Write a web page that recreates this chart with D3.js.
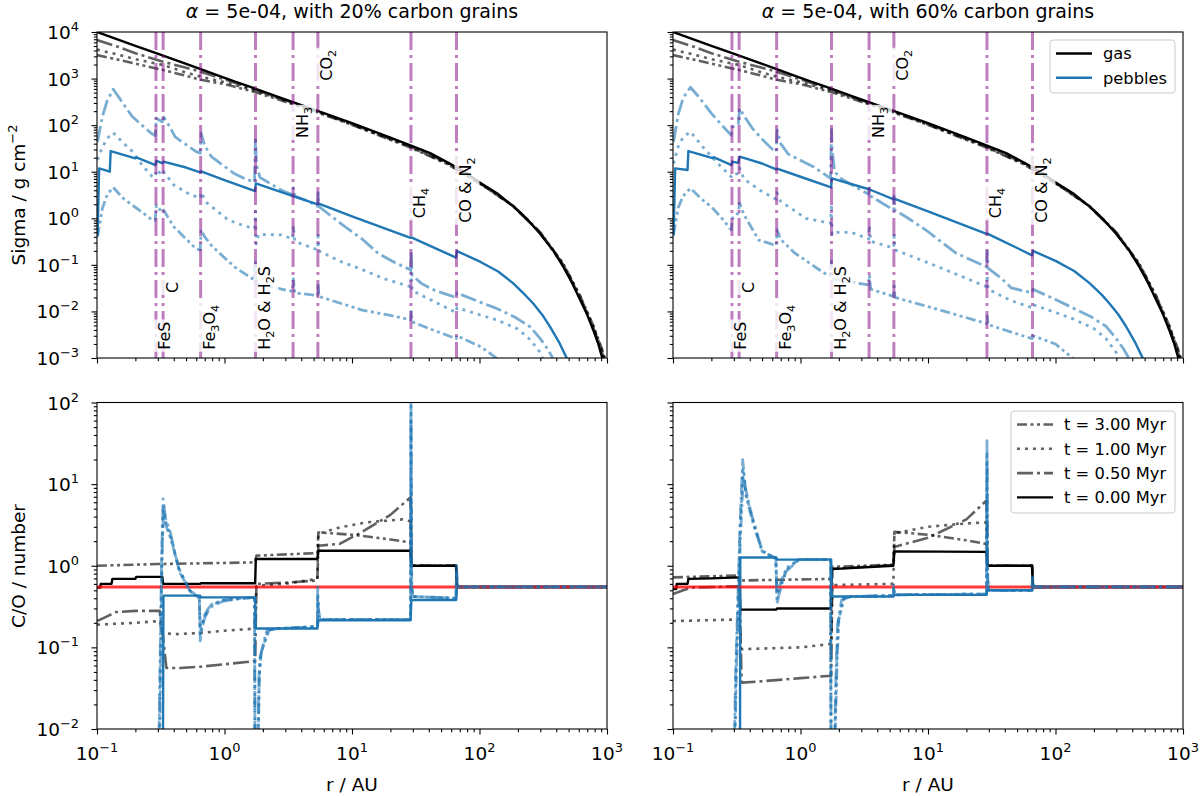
<!DOCTYPE html>
<html><head><meta charset="utf-8">
<script src="https://cdn.jsdelivr.net/npm/d3@7/dist/d3.min.js"></script>
<style>body{margin:0;background:#fff} svg{font-family:"DejaVu Sans",sans-serif}</style>
</head><body><svg id="c" width="1200" height="796"></svg>
<script>
// ---------------- DATA ----------------
const timeLabels = ["t = 3.00 Myr","t = 1.00 Myr","t = 0.50 Myr","t = 0.00 Myr"];
const titles = ["5e-04, with 20% carbon grains","5e-04, with 60% carbon grains"];
const snowR = [0.29,0.33,0.65,1.75,3.45,5.4,29,66];
const snowNames = ["FeS","C","Fe_3O_4","H_2O & H_2S","NH_3","CO_2","CH_4","CO & N_2"];
const snowLabelSigma = [0.0015,0.025,0.0015,0.0015,53,900,1.0,0.8];
const stellarCO = 0.55;
const sigmaTicks = [-3,-2,-1,0,1,2,3,4];
const coTicks = [-2,-1,0,1,2];
const rTicks = [-1,0,1,2,3];

// gas surface density (same in both top panels)
const gasT0 = [[0.1,10000],[0.2,5050],[0.31,3300],[0.5,2070],[0.65,1600],[1,1040],[1.21,860],[1.68,630],[2.5,425],[3.57,300],[5.3,205],[10,110],[20,54],[27.7,38],[41,25],[57,15.5],[80,9.2],[101,5.8],[140,3.3],[184,1.8],[240,0.92],[300,0.46],[380,0.2],[455,0.09],[530,0.042],[614,0.018],[700,0.0085],[780,0.004],[850,0.0021],[910,0.0011],[960,0.0006]];
const gasT05 = [[0.1,6700],[0.15,4700],[0.2,3500],[0.33,2300],[0.5,1700],[0.65,1400],[1,960],[1.7,590],[2.5,410],[3.5,295],[5.3,198],[10,105],[28,36],[57,15],[101,5.7],[184,1.82],[300,0.48],[455,0.1],[614,0.02],[780,0.0045],[910,0.0014],[960,0.0008]];
const gasT1 = [[0.1,4200],[0.15,3200],[0.2,2600],[0.33,1950],[0.5,1350],[0.65,1100],[1,840],[1.7,560],[2.5,395],[3.5,285],[5.3,195],[10,103],[28,35],[57,14.6],[101,5.6],[184,1.84],[300,0.49],[455,0.1],[614,0.021],[780,0.0048],[910,0.0015],[960,0.0009]];
const gasT3 = [[0.1,3200],[0.15,2500],[0.2,2100],[0.33,1520],[0.5,1150],[0.65,940],[1,760],[1.7,520],[2.5,375],[3.5,275],[5.3,190],[10,101],[28,34],[57,14.3],[101,5.5],[184,1.86],[300,0.5],[455,0.105],[614,0.022],[780,0.005],[910,0.0016],[960,0.001]];

// pebble surface density, 20% carbon
const pebL_t0 = [[0.101,0.42],[0.104,11.8],[0.126,10],[0.128,27.8],[0.2,19.4],[0.203,20.3],[0.288,13.9],[0.292,17],[0.325,15.2],[0.332,16.4],[0.5,12.3],[0.645,9.7],[0.655,10.2],[1.0,6.6],[1.74,3.85],[1.76,5.6],[3.45,3.0],[5.38,2.0],[5.42,2.1],[10,1.1],[28.8,0.38],[29.2,0.39],[50,0.2],[65.5,0.143],[66.5,0.198],[101,0.117],[140,0.072],[184,0.040],[230,0.022],[264,0.0148],[310,0.0085],[357,0.0047],[420,0.0022],[483,0.001],[520,0.0006]];
const pebL_t05 = [[0.101,44],[0.11,150],[0.12,330],[0.134,590],[0.15,380],[0.17,230],[0.19,151],[0.23,95],[0.27,65],[0.286,60],[0.292,140],[0.325,118],[0.333,150],[0.37,95],[0.41,56],[0.5,38],[0.6,27],[0.645,25],[0.655,67],[0.7,36],[0.79,21],[1.0,13],[1.2,9],[1.5,6.8],[1.72,6.0],[1.75,56],[1.78,14],[1.9,7.5],[2.8,4.0],[3.42,3.2],[3.47,4.5],[3.55,3.0],[4.6,2.3],[5.38,1.8],[5.42,3.5],[5.5,1.8],[6.5,1.25],[8.8,0.66],[12,0.36],[16,0.177],[22,0.11],[28.8,0.078],[29.1,0.2],[29.6,0.06],[35,0.04],[45,0.028],[65.5,0.02],[66.5,0.025],[100,0.016],[136,0.0116],[190,0.0075],[249,0.0047],[300,0.0026],[340,0.0016],[368,0.0011],[400,0.0006]];
const pebL_t1 = [[0.101,18],[0.11,33],[0.12,52],[0.134,69],[0.16,42],[0.19,27],[0.23,13],[0.27,8],[0.286,7.6],[0.292,11],[0.325,8.5],[0.333,10],[0.4,5.2],[0.5,3.6],[0.6,2.9],[0.645,2.7],[0.655,3.6],[0.72,2.2],[1.07,0.92],[1.4,0.7],[1.72,0.6],[1.75,1.4],[1.77,0.28],[1.85,0.45],[2.8,0.44],[3.42,0.36],[3.47,0.7],[3.55,0.32],[5.38,0.21],[5.42,0.5],[5.5,0.2],[8,0.12],[11.9,0.08],[18,0.05],[28.8,0.034],[29.1,0.07],[29.6,0.028],[41,0.018],[55,0.012],[65.5,0.0095],[66.5,0.012],[100,0.0085],[136,0.0066],[200,0.0042],[249,0.0025],[300,0.0013],[330,0.0007]];
const pebL_t3 = [[0.101,0.4],[0.11,1.6],[0.12,3.2],[0.134,4.6],[0.16,2.7],[0.19,1.9],[0.23,1.3],[0.27,0.92],[0.286,0.9],[0.292,1.9],[0.325,1.35],[0.333,1.5],[0.4,0.66],[0.5,0.36],[0.6,0.22],[0.645,0.21],[0.655,0.56],[0.7,0.4],[0.8,0.25],[1.2,0.09],[1.5,0.06],[1.72,0.047],[1.75,0.12],[1.77,0.04],[2.8,0.03],[3.42,0.027],[3.47,0.05],[3.55,0.025],[5.38,0.022],[5.42,0.04],[5.5,0.021],[12,0.0107],[20,0.0082],[28.8,0.0066],[29.1,0.01],[29.6,0.006],[41,0.0042],[65.5,0.0026],[66.5,0.003],[100,0.0018],[121,0.00126],[150,0.0008]];

// pebble surface density, 60% carbon
const pebR_t0 = [[0.101,0.42],[0.104,11.8],[0.13,10.9],[0.132,27.8],[0.205,19.6],[0.208,20.5],[0.288,13.9],[0.292,16.5],[0.325,15.5],[0.333,21],[0.5,15],[0.645,11.2],[0.655,11.6],[1.0,7.8],[1.74,4.6],[1.76,7.2],[3.45,4.2],[5.38,2.55],[5.42,2.65],[10,1.4],[28.8,0.46],[29.2,0.47],[50,0.23],[65.5,0.16],[66.5,0.2],[101,0.12],[140,0.074],[184,0.041],[230,0.023],[264,0.015],[310,0.0087],[357,0.0048],[420,0.0022],[483,0.001],[520,0.0006]];
const pebR_t05 = [[0.101,44],[0.11,170],[0.12,380],[0.137,650],[0.16,400],[0.2,179],[0.25,90],[0.286,61],[0.292,90],[0.325,105],[0.333,230],[0.36,160],[0.42,85],[0.5,50],[0.62,28],[0.645,27],[0.655,78],[0.7,40],[0.8,24],[1.26,12.8],[1.72,7.2],[1.75,80],[1.77,30],[1.85,10],[2.1,7],[3,4.0],[3.42,3.3],[3.47,4.5],[3.55,3.0],[5.38,1.5],[5.42,3.0],[5.5,1.5],[7,1.0],[9.6,0.56],[16.5,0.18],[28.8,0.09],[29.1,0.2],[29.6,0.085],[38,0.05],[45,0.032],[65.5,0.025],[66.5,0.03],[100,0.018],[136,0.012],[190,0.0077],[249,0.0048],[300,0.0026],[340,0.0016],[368,0.0011],[400,0.0006]];
const pebR_t1 = [[0.101,15],[0.11,35],[0.12,55],[0.137,72],[0.17,35],[0.22,16],[0.286,7.8],[0.292,9],[0.325,9],[0.333,12],[0.36,7],[0.48,4],[0.62,2.7],[0.645,2.6],[0.655,3.5],[0.7,2.3],[1.1,1.0],[1.72,0.78],[1.75,2],[1.77,0.45],[1.85,0.5],[2.5,0.5],[3.42,0.36],[3.47,0.7],[3.55,0.32],[5.38,0.23],[5.42,0.5],[5.5,0.21],[12,0.091],[28.8,0.034],[29.1,0.06],[29.6,0.03],[45,0.017],[65.5,0.012],[66.5,0.014],[100,0.0095],[136,0.007],[200,0.0043],[249,0.0026],[300,0.0013],[330,0.0007]];
const pebR_t3 = [[0.101,0.45],[0.11,1.7],[0.12,3.0],[0.137,4.4],[0.17,2.5],[0.2,1.77],[0.25,0.9],[0.286,0.56],[0.292,1.0],[0.325,1.3],[0.333,2.1],[0.36,1.2],[0.47,0.34],[0.62,0.27],[0.645,0.26],[0.655,0.56],[0.7,0.35],[0.9,0.18],[1.54,0.066],[1.72,0.06],[1.75,0.12],[1.77,0.05],[3.42,0.037],[3.47,0.06],[3.55,0.03],[5.38,0.021],[5.42,0.04],[5.5,0.02],[12,0.011],[28.8,0.0055],[29.1,0.008],[29.6,0.0052],[45,0.0036],[65.5,0.0026],[66.5,0.003],[100,0.002],[121,0.0013],[150,0.0008]];

// C/O ratio, 20% carbon
const coGasL_t0 = [[0.1,0.54],[0.106,0.54],[0.107,0.6],[0.13,0.6],[0.132,0.69],[0.2,0.69],[0.203,0.73],[0.325,0.73],[0.33,0.6],[0.645,0.6],[0.655,0.61],[1.74,0.61],[1.76,1.21],[5.35,1.21],[5.45,1.53],[28.8,1.53],[29.2,1.0],[65.5,1.0],[66.5,0.55],[1000,0.55]];
const coGasL_t05 = [[0.1,0.21],[0.12,0.24],[0.14,0.27],[0.2,0.28],[0.31,0.28],[0.33,0.13],[0.35,0.056],[0.45,0.056],[0.65,0.058],[1.0,0.062],[1.74,0.068],[1.78,0.6],[3,0.62],[5.35,0.66],[5.45,1.76],[8,1.85],[12,2.6],[20,4.2],[28.8,6.9],[29.2,1.0],[65.5,1.0],[66.5,0.55],[1000,0.55]];
const coGasL_t1 = [[0.1,0.19],[0.2,0.2],[0.31,0.21],[0.33,0.15],[0.4,0.145],[0.65,0.15],[1,0.16],[1.74,0.17],[1.78,0.57],[3,0.6],[5.35,0.69],[5.45,2.46],[8,2.95],[13,3.4],[25,3.7],[28.8,3.5],[29.2,1.0],[65.5,1.0],[66.5,0.55],[1000,0.55]];
const coGasL_t3 = [[0.1,1.0],[0.3,1.05],[0.65,1.07],[1.74,1.1],[1.78,1.33],[5.35,1.43],[5.45,2.56],[10,2.4],[20,2.1],[28.8,1.93],[29.2,1.0],[65.5,1.0],[66.5,0.55],[1000,0.55]];
const coPebL_t0 = [[0.1,0.001],[0.328,0.001],[0.332,0.43],[0.645,0.43],[0.655,0.41],[1.74,0.41],[1.76,0.17],[5.35,0.17],[5.45,0.215],[28.8,0.215],[29.2,0.38],[65.5,0.38],[66.5,0.55],[1000,0.55]];
const coPebL_t05 = [[0.1,0.001],[0.3,0.001],[0.31,0.03],[0.322,1.5],[0.33,6.6],[0.345,3.8],[0.373,2.7],[0.435,0.95],[0.537,0.49],[0.6,0.44],[0.635,0.4],[0.645,0.12],[0.67,0.18],[0.7,0.23],[0.77,0.31],[0.98,0.37],[1.4,0.4],[1.72,0.41],[1.74,0.001],[1.8,0.001],[1.86,0.04],[1.9,0.075],[2.14,0.16],[2.6,0.17],[5.35,0.18],[5.38,0.55],[5.45,0.3],[5.6,0.22],[28.8,0.22],[29.0,150],[29.4,0.6],[30,0.42],[65.5,0.4],[66,1.0],[67,0.6],[69,0.55],[1000,0.55]];
const coPebL_t1 = [[0.1,0.001],[0.302,0.001],[0.312,0.03],[0.323,1.4],[0.331,5.6],[0.347,3.4],[0.375,2.4],[0.44,0.9],[0.54,0.48],[0.6,0.43],[0.635,0.4],[0.645,0.14],[0.67,0.19],[0.7,0.24],[0.77,0.32],[0.98,0.38],[1.4,0.4],[1.72,0.41],[1.74,0.001],[1.8,0.001],[1.87,0.04],[1.92,0.08],[2.2,0.165],[2.6,0.17],[5.35,0.18],[5.38,0.45],[5.45,0.28],[5.6,0.22],[28.8,0.22],[29.0,90],[29.4,0.55],[30,0.42],[65.5,0.4],[66,0.9],[67,0.6],[69,0.55],[1000,0.55]];
const coPebL_t3 = [[0.1,0.001],[0.304,0.001],[0.314,0.03],[0.324,1.3],[0.332,4.6],[0.35,3.0],[0.38,2.1],[0.45,0.8],[0.55,0.47],[0.6,0.43],[0.635,0.4],[0.645,0.16],[0.67,0.2],[0.7,0.25],[0.77,0.33],[0.98,0.38],[1.4,0.4],[1.72,0.41],[1.74,0.001],[1.8,0.001],[1.88,0.05],[1.95,0.09],[2.25,0.165],[2.6,0.17],[5.35,0.18],[5.38,0.4],[5.45,0.26],[5.6,0.22],[28.8,0.22],[29.0,60],[29.4,0.5],[30,0.42],[65.5,0.4],[66,0.8],[67,0.6],[69,0.55],[1000,0.55]];

// C/O ratio, 60% carbon
const coGasR_t0 = [[0.1,0.52],[0.106,0.52],[0.107,0.6],[0.13,0.6],[0.132,0.69],[0.2,0.7],[0.333,0.72],[0.337,0.29],[0.645,0.29],[0.655,0.3],[1.74,0.3],[1.76,0.91],[5.35,1.0],[5.45,1.5],[28.8,1.48],[29.2,1.0],[65.5,1.0],[66.5,0.55],[1000,0.55]];
const coGasR_t05 = [[0.1,0.45],[0.12,0.5],[0.14,0.54],[0.333,0.56],[0.345,0.037],[0.45,0.038],[1.0,0.042],[1.74,0.045],[1.78,0.92],[5.35,1.02],[5.45,1.7],[10,2.2],[20,3.7],[28.8,6.3],[29.2,1.0],[65.5,1.0],[66.5,0.55],[1000,0.55]];
const coGasR_t1 = [[0.1,0.21],[0.333,0.22],[0.34,0.095],[1.0,0.1],[1.74,0.11],[1.78,0.58],[5.35,0.6],[5.45,2.5],[10,3.0],[20,3.3],[28.8,3.4],[29.2,1.0],[65.5,1.0],[66.5,0.55],[1000,0.55]];
const coGasR_t3 = [[0.1,0.72],[0.333,0.76],[0.34,0.66],[1.74,0.69],[1.78,0.97],[5.35,1.03],[5.45,2.6],[10,2.4],[20,2.05],[28.8,1.85],[29.2,1.0],[65.5,1.0],[66.5,0.55],[1000,0.55]];
const coPebR_t0 = [[0.1,0.001],[0.335,0.001],[0.337,1.26],[0.645,1.26],[0.655,1.19],[1.74,1.19],[1.76,0.42],[5.35,0.42],[5.45,0.44],[28.8,0.44],[29.2,0.5],[65.5,0.5],[66.5,0.55],[1000,0.55]];
const coPebR_t05 = [[0.1,0.001],[0.296,0.001],[0.31,0.05],[0.335,3],[0.352,20],[0.37,9],[0.397,5.5],[0.42,3.9],[0.5,1.53],[0.6,1.3],[0.64,1.25],[0.655,0.34],[0.68,0.45],[0.72,0.62],[0.77,0.85],[0.98,1.2],[1.72,1.2],[1.74,0.001],[1.8,0.001],[1.9,0.05],[1.95,0.19],[2.1,0.38],[2.5,0.42],[5.35,0.43],[5.38,0.58],[5.45,0.44],[28.8,0.45],[29.0,34],[29.4,0.7],[30,0.5],[65.5,0.5],[66,0.75],[67,0.58],[69,0.55],[1000,0.55]];
const coPebR_t1 = [[0.1,0.001],[0.298,0.001],[0.312,0.05],[0.337,3],[0.354,16],[0.372,8],[0.4,5],[0.425,3.5],[0.5,1.5],[0.6,1.3],[0.64,1.25],[0.655,0.4],[0.68,0.5],[0.72,0.66],[0.78,0.9],[0.98,1.2],[1.72,1.2],[1.74,0.001],[1.8,0.001],[1.92,0.06],[1.98,0.2],[2.15,0.39],[2.5,0.42],[5.35,0.43],[5.38,0.55],[5.45,0.44],[28.8,0.45],[29.0,25],[29.4,0.65],[30,0.5],[65.5,0.5],[66,0.72],[67,0.58],[69,0.55],[1000,0.55]];
const coPebR_t3 = [[0.1,0.001],[0.3,0.001],[0.314,0.05],[0.339,2.5],[0.356,12],[0.375,7],[0.405,4.4],[0.43,3.1],[0.5,1.5],[0.6,1.3],[0.64,1.25],[0.655,0.45],[0.68,0.55],[0.72,0.7],[0.78,0.95],[0.98,1.2],[1.72,1.2],[1.74,0.001],[1.8,0.001],[1.94,0.07],[2.0,0.22],[2.2,0.4],[2.5,0.42],[5.35,0.43],[5.38,0.52],[5.45,0.44],[28.8,0.45],[29.0,18],[29.4,0.6],[30,0.5],[65.5,0.5],[66,0.7],[67,0.58],[69,0.55],[1000,0.55]];

// ---------------- DRAWING ----------------
const svg = d3.select("#c");
const FS = 18.5;   // ticks and axis labels
const LFS = 16.3;  // legend
const SFS = 16;    // snow line labels
const styles = [
  {dash:"10,3.5,3,3.5,3,3.5"}, // 3.00 Myr
  {dash:"3,5"},                // 1.00 Myr
  {dash:"16,4,3,4"},           // 0.50 Myr
  {dash:null}                  // 0.00 Myr
];
const BLUE = "#1f77b4";

const panels = [
  {x0:97, x1:607, y0:32, y1:358, dom:[1e-3,1e4], ticks:sigmaTicks, top:true, ylab:true,
   gas:[gasT3,gasT1,gasT05,gasT0], peb:[pebL_t3,pebL_t1,pebL_t05,pebL_t0], title:titles[0]},
  {x0:673, x1:1183, y0:32, y1:358, dom:[1e-3,1e4], ticks:sigmaTicks, top:true, ylab:false,
   gas:[gasT3,gasT1,gasT05,gasT0], peb:[pebR_t3,pebR_t1,pebR_t05,pebR_t0], title:titles[1]},
  {x0:97, x1:607, y0:402.5, y1:729, dom:[1e-2,1e2], ticks:coTicks, top:false, ylab:true,
   gas:[coGasL_t3,coGasL_t1,coGasL_t05,coGasL_t0], peb:[coPebL_t3,coPebL_t1,coPebL_t05,coPebL_t0]},
  {x0:673, x1:1183, y0:402.5, y1:729, dom:[1e-2,1e2], ticks:coTicks, top:false, ylab:false,
   gas:[coGasR_t3,coGasR_t1,coGasR_t05,coGasR_t0], peb:[coPebR_t3,coPebR_t1,coPebR_t05,coPebR_t0]}
];

function supText(sel, k){
  sel.text("10");
  sel.append("tspan").attr("dy",-8).attr("font-size",FS*0.7).text(k<0 ? "\u2212"+(-k) : String(k));
}
function minorsFor(kmin,kmax){
  const out=[];
  for(let k=kmin;k<kmax;k++) for(let m=2;m<=9;m++) out.push(m*Math.pow(10,k));
  return out;
}
function drawLine(g, data, x, y, color, op, w, dash){
  g.append("path").datum(data)
   .attr("d", d3.line().x(d=>x(d[0])).y(d=>y(d[1])))
   .attr("fill","none").attr("stroke",color).attr("stroke-opacity",op)
   .attr("stroke-width",w).attr("stroke-dasharray",dash)
   .attr("stroke-linejoin","round");
}
function addSubText(t, s, fs){
  let i=0;
  while(i<s.length){
    if(s[i]==="_"){
      t.append("tspan").attr("font-size",fs*0.7).attr("dy",4).text(s[i+1]);
      i+=2;
      let j=i; let buf="";
      while(j<s.length && s[j]!=="_"){buf+=s[j];j++;}
      t.append("tspan").attr("dy",-4).text(buf);
      i=j;
    } else {
      let buf="";
      while(i<s.length && s[i]!=="_"){buf+=s[i];i++;}
      t.append("tspan").text(buf);
    }
  }
}

panels.forEach((p,pi)=>{
  const x = d3.scaleLog().domain([0.1,1000]).range([p.x0,p.x1]);
  const y = d3.scaleLog().domain(p.dom).range([p.y1,p.y0]);
  const cid = "clip"+pi;
  svg.append("clipPath").attr("id",cid).append("rect")
     .attr("x",p.x0).attr("y",p.y0).attr("width",p.x1-p.x0).attr("height",p.y1-p.y0);
  const g = svg.append("g").attr("clip-path",`url(#${cid})`);

  for(let i=0;i<3;i++) drawLine(g, p.gas[i], x, y, "#000", 0.62, 2.6, styles[i].dash);
  drawLine(g, p.gas[3], x, y, "#000", 1, 2.4, null);

  if(p.top){
    for(let i=0;i<3;i++) drawLine(g, p.peb[i], x, y, BLUE, 0.6, 2.8, styles[i].dash);
    drawLine(g, p.peb[3], x, y, BLUE, 1, 2.4, null);
    g.selectAll("line.snow").data(snowR).enter().append("line")
     .attr("x1",d=>x(d)).attr("x2",d=>x(d)).attr("y1",p.y0).attr("y2",p.y1)
     .attr("stroke","purple").attr("stroke-opacity",0.5).attr("stroke-width",3)
     .attr("stroke-dasharray","18,5,3,5");
    snowR.forEach((r,i)=>{
      const lg = g.append("g").attr("transform",`translate(${x(r)+14.5},${y(snowLabelSigma[i])}) rotate(-90)`);
      const t = lg.append("text").attr("font-size",SFS).attr("fill","#000");
      addSubText(t, snowNames[i], SFS);
      const bb = t.node().getBBox();
      lg.insert("rect","text").attr("x",bb.x-2).attr("y",bb.y-1.5)
        .attr("width",bb.width+4).attr("height",bb.height+3)
        .attr("fill","#fff").attr("fill-opacity",0.8);
    });
  } else {
    drawLine(g, p.peb[3], x, y, BLUE, 1, 2.4, null);
    g.append("line").datum(stellarCO)
     .attr("x1",x(0.1)).attr("x2",x(1000)).attr("y1",d=>y(d)).attr("y2",d=>y(d))
     .attr("stroke","red").attr("stroke-opacity",0.78).attr("stroke-width",3);
    for(let i=0;i<3;i++) drawLine(g, p.peb[i], x, y, BLUE, 0.6, 2.8, styles[i].dash);
  }

  const kx = rTicks;
  const xMaj = kx.map(k=>Math.pow(10,k));
  const xMin = minorsFor(kx[0],kx[kx.length-1]);
  const yMaj = p.ticks.map(k=>Math.pow(10,k));
  const yMin = minorsFor(p.ticks[0],p.ticks[p.ticks.length-1]);
  const axG = svg.append("g");
  const styleAx = sel=>{ sel.select(".domain").remove(); sel.selectAll("line").attr("stroke","#000").attr("stroke-width",1.1); };
  axG.append("g").attr("transform",`translate(0,${p.y1})`)
     .call(d3.axisBottom(x).tickValues(xMaj).tickSize(5.5).tickFormat(()=>"")).call(styleAx);
  axG.append("g").attr("transform",`translate(0,${p.y1})`)
     .call(d3.axisBottom(x).tickValues(xMin).tickSize(3.2).tickFormat(()=>"")).call(styleAx);
  axG.append("g").attr("transform",`translate(${p.x0},0)`)
     .call(d3.axisLeft(y).tickValues(yMaj).tickSize(5.5).tickFormat(()=>"")).call(styleAx);
  axG.append("g").attr("transform",`translate(${p.x0},0)`)
     .call(d3.axisLeft(y).tickValues(yMin).tickSize(3.2).tickFormat(()=>"")).call(styleAx);

  svg.append("rect").attr("x",p.x0).attr("y",p.y0).attr("width",p.x1-p.x0).attr("height",p.y1-p.y0)
     .attr("fill","none").attr("stroke","#000").attr("stroke-width",1.1);

  if(p.ylab){
    p.ticks.forEach(k=>{
      const t = svg.append("text").attr("x",p.x0-18).attr("y",y(Math.pow(10,k))+7)
        .attr("text-anchor","end").attr("font-size",FS);
      supText(t,k);
    });
  }
  if(!p.top){
    kx.forEach(k=>{
      const t = svg.append("text").attr("x",x(Math.pow(10,k))).attr("y",p.y1+31)
        .attr("text-anchor","middle").attr("font-size",FS);
      supText(t,k);
    });
    svg.append("text").attr("x",(p.x0+p.x1)/2).attr("y",791).attr("text-anchor","middle")
       .attr("font-size",FS).text("r / AU");
  }
  if(p.title){
    const t = svg.append("text").attr("x",(p.x0+p.x1)/2).attr("y",18).attr("text-anchor","middle")
       .attr("font-size",19);
    t.append("tspan").attr("font-style","italic").text("\u03b1");
    t.append("tspan").text(" = "+p.title);
  }
});

{
  const t = svg.append("text").attr("transform",`translate(25,195) rotate(-90)`)
    .attr("text-anchor","middle").attr("font-size",FS);
  t.append("tspan").text("Sigma / g cm");
  t.append("tspan").attr("dy",-8).attr("font-size",FS*0.7).text("\u22122");
  svg.append("text").attr("transform",`translate(25,566) rotate(-90)`)
    .attr("text-anchor","middle").attr("font-size",FS).text("C/O / number");
}

function legend(x0,y0,w,h,items){
  const lg = svg.append("g");
  lg.append("rect").attr("x",x0).attr("y",y0).attr("width",w).attr("height",h).attr("rx",3)
    .attr("fill","#fff").attr("fill-opacity",0.8).attr("stroke","#ccc").attr("stroke-width",1);
  items.forEach((it,i)=>{
    const yy = y0+13.5+i*24.3;
    lg.append("line").attr("x1",x0+6).attr("x2",x0+42).attr("y1",yy).attr("y2",yy)
      .attr("stroke",it.color).attr("stroke-opacity",it.op).attr("stroke-width",it.w)
      .attr("stroke-dasharray",it.dash);
    lg.append("text").attr("x",x0+53).attr("y",yy+5.8).attr("font-size",LFS).text(it.label);
  });
}
legend(1050,40,125,53,[
  {label:"gas",color:"#000",op:1,w:2.4,dash:null},
  {label:"pebbles",color:BLUE,op:1,w:2.4,dash:null}
]);
legend(1011,411,164,102, timeLabels.map((l,i)=>({label:l,color:"#000",op:i<3?0.62:1,w:i<3?2.6:2.4,dash:styles[i].dash})));
</script></body></html>
